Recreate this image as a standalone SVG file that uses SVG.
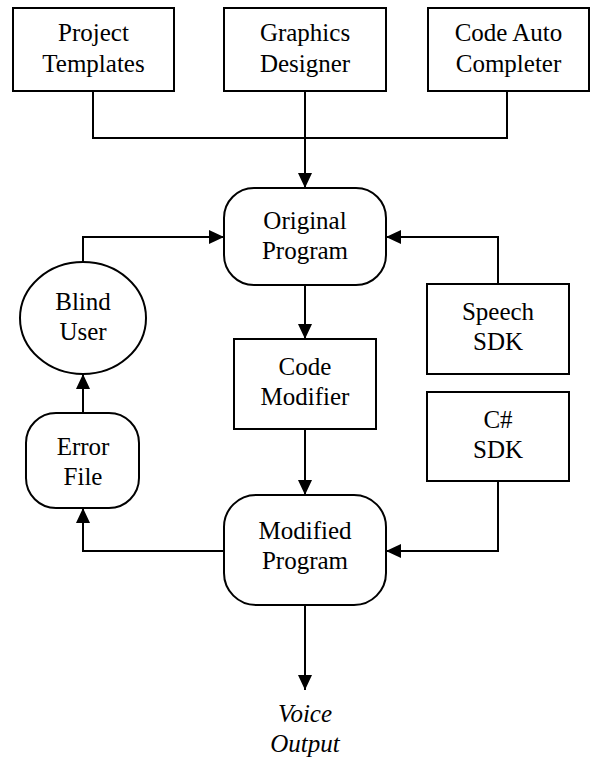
<svg xmlns="http://www.w3.org/2000/svg" width="591" height="760" viewBox="0 0 591 760" font-family="'Liberation Serif', 'Times New Roman', serif">
<defs>
<style>
.box{fill:#fff;stroke:#000;stroke-width:2}
.ln{fill:none;stroke:#000;stroke-width:2}
text{font-family:'Liberation Serif','Times New Roman',serif;font-size:25px;fill:#000;text-anchor:middle}
.it{font-style:italic}
</style>
<marker id="ah" viewBox="0 0 15 14" refX="15" refY="7" markerWidth="15" markerHeight="14" markerUnits="userSpaceOnUse" orient="auto">
<path d="M0,0 L15,7 L0,14 Z" fill="#000"/>
</marker>
</defs>
<g id="connectors">
<path class="ln" d="M93,91 V138 H507 V91"/>
<path class="ln" d="M305,91 V188" marker-end="url(#ah)"/>
<path class="ln" d="M83,262 V237 H224" marker-end="url(#ah)"/>
<path class="ln" d="M498,284 V237 H386" marker-end="url(#ah)"/>
<path class="ln" d="M305,285 V339" marker-end="url(#ah)"/>
<path class="ln" d="M305,429 V495" marker-end="url(#ah)"/>
<path class="ln" d="M83,413 V374" marker-end="url(#ah)"/>
<path class="ln" d="M224,551 H83 V508" marker-end="url(#ah)"/>
<path class="ln" d="M498,481 V551 H386" marker-end="url(#ah)"/>
<path class="ln" d="M305,605 V690" marker-end="url(#ah)"/>
</g>
<g id="project-templates">
<rect class="box" x="13" y="8" width="161" height="83"/>
<text x="93.5" y="41">Project</text>
<text x="93.5" y="72">Templates</text>
</g>
<g id="graphics-designer">
<rect class="box" x="224" y="8" width="162" height="83"/>
<text x="305" y="41">Graphics</text>
<text x="305" y="72">Designer</text>
</g>
<g id="code-auto-completer">
<rect class="box" x="428" y="8" width="161" height="83"/>
<text x="508.5" y="41">Code Auto</text>
<text x="508.5" y="72">Completer</text>
</g>
<g id="original-program">
<rect class="box" x="224" y="188" width="162" height="97" rx="30"/>
<text x="305" y="229">Original</text>
<text x="305" y="259">Program</text>
</g>
<g id="blind-user">
<ellipse class="box" cx="83" cy="318" rx="63" ry="56"/>
<text x="83" y="310">Blind</text>
<text x="83" y="340">User</text>
</g>
<g id="speech-sdk">
<rect class="box" x="427" y="284" width="142" height="90"/>
<text x="498" y="320">Speech</text>
<text x="498" y="350">SDK</text>
</g>
<g id="code-modifier">
<rect class="box" x="234" y="339" width="142" height="90"/>
<text x="305" y="375">Code</text>
<text x="305" y="405">Modifier</text>
</g>
<g id="csharp-sdk">
<rect class="box" x="427" y="392" width="142" height="89"/>
<text x="498" y="428">C#</text>
<text x="498" y="458">SDK</text>
</g>
<g id="error-file">
<rect class="box" x="26" y="413" width="113" height="95" rx="30"/>
<text x="83" y="455">Error</text>
<text x="83" y="485">File</text>
</g>
<g id="modified-program">
<rect class="box" x="224" y="495" width="162" height="110" rx="32"/>
<text x="305" y="539">Modified</text>
<text x="305" y="569">Program</text>
</g>
<g id="voice-output">
<text class="it" x="305" y="722">Voice</text>
<text class="it" x="305" y="752">Output</text>
</g>
</svg>
